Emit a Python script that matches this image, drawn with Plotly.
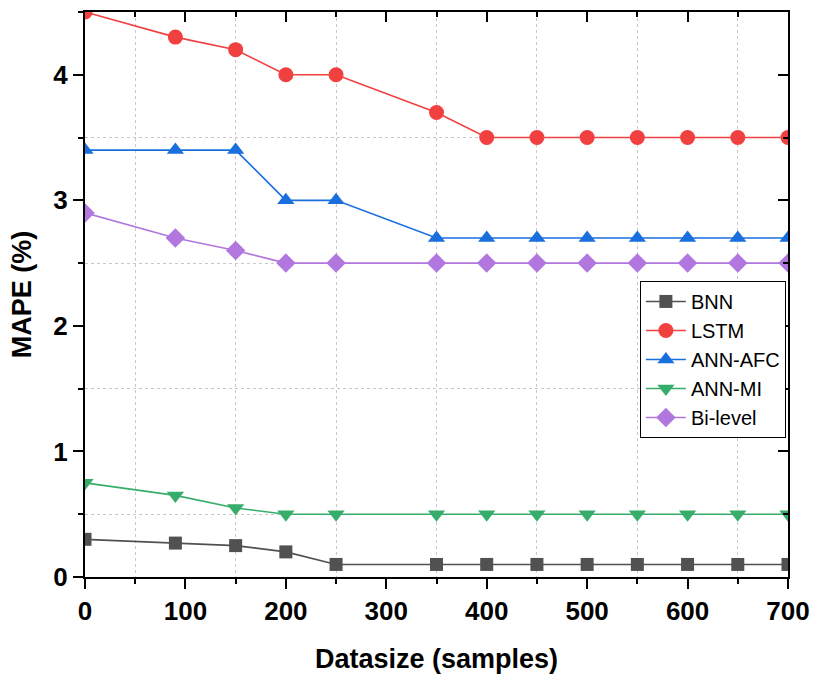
import plotly.graph_objects as go

# Dataset sizes (samples)
datasize = [0, 90, 150, 200, 250, 350, 400, 450, 500, 550, 600, 650, 700]

# MAPE (%) per method
bnn = [0.30, 0.27, 0.25, 0.20, 0.10, 0.10, 0.10, 0.10, 0.10, 0.10, 0.10, 0.10, 0.10]
lstm = [4.5, 4.3, 4.2, 4.0, 4.0, 3.7, 3.5, 3.5, 3.5, 3.5, 3.5, 3.5, 3.5]
ann_afc = [3.4, 3.4, 3.4, 3.0, 3.0, 2.7, 2.7, 2.7, 2.7, 2.7, 2.7, 2.7, 2.7]
ann_mi = [0.75, 0.65, 0.55, 0.50, 0.50, 0.50, 0.50, 0.50, 0.50, 0.50, 0.50, 0.50, 0.50]
bi_level = [2.9, 2.7, 2.6, 2.5, 2.5, 2.5, 2.5, 2.5, 2.5, 2.5, 2.5, 2.5, 2.5]

x_ticks = [0, 100, 200, 300, 400, 500, 600, 700]
y_ticks = [0, 1, 2, 3, 4]

series = [
    ("BNN", bnn, "#515151", "square", 13),
    ("LSTM", lstm, "#F14040", "circle", 15),
    ("ANN-AFC", ann_afc, "#1A6FDF", "triangle-up", 15),
    ("ANN-MI", ann_mi, "#37AD6B", "triangle-down", 15),
    ("Bi-level", bi_level, "#B177DE", "diamond", 15),
]

FONT = "Liberation Sans, Arial, sans-serif"
TICK_FONT = dict(size=26, family=FONT, weight="bold")
TITLE_FONT = dict(size=27, family=FONT, weight="bold")

fig = go.Figure()
for name, vals, color, symbol, size in series:
    fig.add_trace(go.Scatter(
        x=datasize, y=vals, name=name, mode="lines+markers",
        line=dict(color=color, width=1.6),
        marker=dict(symbol=symbol, size=size, color=color, line=dict(width=0)),
        cliponaxis=True,
    ))

grid_minor_x = dict(tick0=50, dtick=100, ticks="outside", ticklen=5, tickwidth=1.5,
                    tickcolor="black", showgrid=True, gridcolor="#c8c8c8",
                    griddash="dot", gridwidth=1)
grid_minor_y = dict(tick0=0.5, dtick=1, ticks="outside", ticklen=5, tickwidth=1.5,
                    tickcolor="black", showgrid=True, gridcolor="#c8c8c8",
                    griddash="dot", gridwidth=1)

fig.update_layout(
    width=814, height=677,
    margin=dict(l=85, r=26, t=12, b=100),
    plot_bgcolor="white", paper_bgcolor="white",
    font=dict(family=FONT, color="black"),
    xaxis=dict(
        range=[0, 700], tickvals=x_ticks, ticks="outside", ticklen=10, tickwidth=2,
        tickcolor="black", showline=True, linecolor="black", linewidth=2,
        showgrid=False, zeroline=False, automargin=False,
        tickfont=TICK_FONT,
        title=dict(text="Datasize (samples)", font=TITLE_FONT, standoff=24),
        minor=grid_minor_x,
    ),
    yaxis=dict(
        range=[0, 4.5], tickvals=y_ticks, ticks="outside", ticklen=10, tickwidth=2,
        tickcolor="black", showline=True, linecolor="black", linewidth=2,
        showgrid=False, zeroline=False, automargin=False,
        tickfont=TICK_FONT,
        title=dict(text="MAPE (%)", font=TITLE_FONT, standoff=14),
        minor=grid_minor_y,
    ),
    # mirrored frame with inward ticks on top and right
    xaxis2=dict(
        overlaying="x", matches="x", side="top", range=[0, 700], tickvals=x_ticks,
        ticks="inside", ticklen=10, tickwidth=2, tickcolor="black",
        showline=True, linecolor="black", linewidth=2, showticklabels=False,
        showgrid=False, zeroline=False, automargin=False,
        minor=dict(tick0=50, dtick=100, ticks="inside", ticklen=5, tickwidth=1.5,
                   tickcolor="black", showgrid=False),
    ),
    yaxis2=dict(
        overlaying="y", matches="y", side="right", range=[0, 4.5], tickvals=y_ticks,
        ticks="inside", ticklen=10, tickwidth=2, tickcolor="black",
        showline=True, linecolor="black", linewidth=2, showticklabels=False,
        showgrid=False, zeroline=False, automargin=False,
        minor=dict(tick0=0.5, dtick=1, ticks="inside", ticklen=5, tickwidth=1.5,
                   tickcolor="black", showgrid=False),
    ),
    legend=dict(
        x=0.997, y=0.524, xanchor="right", yanchor="top",
        bgcolor="white", bordercolor="black", borderwidth=1,
        font=dict(size=20, family=FONT), tracegroupgap=0, itemwidth=40,
    ),
    showlegend=True,
)

# invisible trace to bring the mirrored axes into the figure
fig.add_trace(go.Scatter(x=[0], y=[0], xaxis="x2", yaxis="y2", mode="markers",
                         marker=dict(opacity=0), showlegend=False, hoverinfo="skip"))

fig.write_html("out.html")
